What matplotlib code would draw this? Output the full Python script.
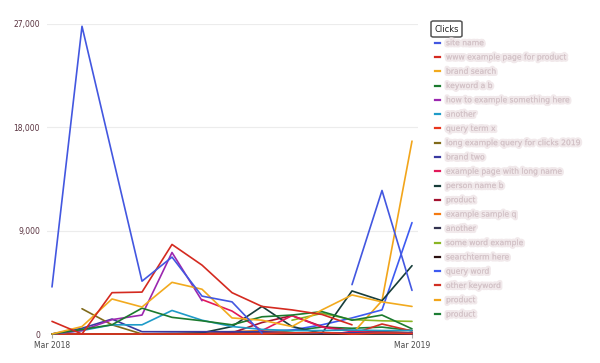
import matplotlib
matplotlib.use('Agg')
import matplotlib.pyplot as plt
import matplotlib.patheffects as pe
from matplotlib.lines import Line2D
from matplotlib.patches import FancyBboxPatch
import numpy as np

# Months Mar 2018 .. Mar 2019
months = ['Mar 2018', 'Apr 2018', 'May 2018', 'Jun 2018', 'Jul 2018', 'Aug 2018', 'Sep 2018',
          'Oct 2018', 'Nov 2018', 'Dec 2018', 'Jan 2019', 'Feb 2019', 'Mar 2019']
x_ticks = [0, 12]
x_tick_labels = ['Mar 2018', 'Mar 2019']
y_ticks = [0, 9000, 18000, 27000]
y_tick_labels = ['0', '9,000', '18,000', '27,000']

N = None
# legend labels are blurred in the reference; placeholders of similar length
labels = ['site name', 'www example page for product', 'brand search', 'keyword a b',
          'how to example something here', 'another', 'query term x', 'long example query for clicks 2019',
          'brand two', 'example page with long name', 'person name b', 'product', 'example sample q',
          'another', 'some word example', 'searchterm here', 'query word', 'other keyword', 'product', 'product']
colors = ['#4357e0', '#d42a20', '#f2aa1e', '#1b7a2e', '#9b27af', '#1f9bc8', '#e8361c', '#806a1a',
          '#3a3aa0', '#e2195a', '#173d3a', '#a3122e', '#f47a12', '#33334f', '#8ab524', '#2b1111',
          '#3d5af1', '#d12f23', '#f2a51a', '#1c7d34']
s1 = [4100, 26800, 15700, 4600, 6700, 3300, 2800, 60, N, N, 4300, 12500, 3800]
s2 = [1100, 0, 3600, 3650, 7800, 6000, 3600, 2400, 2100, 1700, 800, N, N]
s3 = [0, 650, 3050, 2350, 4500, 3900, 1400, 1200, 650, 2100, 3400, 2800, 2400]
s4 = [0, 400, 800, 2250, 1450, 1150, 800, 1500, 1650, 1950, 1200, 1650, 450]
s5 = [0, 300, 1250, 1650, 7100, 2900, N, N, N, N, N, N, N]
s6 = [0, 300, 800, 800, 2050, 1200, 650, 400, 300, 300, 350, 300, 300]
s7 = [0, 0, 0, 0, 0, 0, 0, 50, 100, 150, 0, 100, 50]
s8 = [N, 2200, 800, 0, N, N, N, N, N, N, N, N, N]
s9 = [0, 500, 1300, 200, 200, 200, 200, 200, 100, 100, 100, 100, 100]
s10 = [N, N, N, N, N, 3000, 2000, 300, 1600, 600, 200, 100, 50]
s11 = [0, 0, 0, 0, 0, 100, 650, 2400, 650, 60, 3750, 2900, 5950]
s12 = [0, 0, 0, 0, 0, 0, 100, 1000, 1600, 650, 300, 200, 100]
s13 = [0, 0, 0, 0, 0, 100, 200, 300, 100, 100, 100, 200, 100]
s14 = [0, 0, 0, 0, 50, 50, 50, 100, 50, 50, 50, 50, 0]
s15 = [N, N, N, N, N, N, N, N, 1200, 1800, 1250, 1150, 1100]
s16 = [0, 0, 0, 0, 0, 0, 50, 50, 0, 0, 0, 0, 0]
s17 = [0, 0, 0, 0, 0, 0, 100, 200, 350, 800, 1400, 2100, 9700]
s18 = [0, 0, 0, 0, 0, 0, 0, 0, 0, 0, 0, 870, 260]
s19 = [0, 0, 0, 0, 0, 0, 0, 0, 0, 0, 0, 2900, 16800]
s20 = [0, 0, 0, 0, 0, 0, 0, 100, 300, 600, 500, 600, 300]
series = [s1, s2, s3, s4, s5, s6, s7, s8, s9, s10, s11, s12, s13, s14, s15, s16, s17, s18, s19, s20]

fig = plt.figure(figsize=(6, 3.63), dpi=100)
W, H = 600, 363
# axes: left 47px, right 418px, y=0 at 334px, 27000 at 24px
ax = fig.add_axes([47 / W, (H - 334) / H, (418 - 47) / W, (334 - 24) / H])

x = np.arange(len(months))
# draw later series first so the first ones sit on top, like the reference
for vals, c in reversed(list(zip(series, colors))):
    y = np.array([np.nan if v is None else v for v in vals], dtype=float)
    ax.plot(x, y, color=c, linewidth=1.2, clip_on=False, solid_capstyle='round')

ax.set_xlim(-5 / 30, 12 + 6 / 30)
ax.set_ylim(0, 27000)
ax.set_yticks(y_ticks)
ax.set_yticklabels(y_tick_labels)
ax.set_xticks(x_ticks)
ax.set_xticklabels(x_tick_labels)
ax.tick_params(axis='y', length=0, pad=5, labelsize=5.5, labelcolor='#5a3340')
ax.tick_params(axis='x', length=3, width=0.8, color='#aaaaaa', pad=2, labelsize=5.5, labelcolor='#4a4a4a')
ax.grid(axis='y', color='#ececec', linewidth=0.8)
ax.set_axisbelow(True)
for sp in ax.spines.values():
    sp.set_visible(False)

# legend title box
fig.add_artist(FancyBboxPatch((431 / W, (H - 37) / H), 31 / W, 16 / H,
                              boxstyle='round,pad=0,rounding_size=0.004',
                              transform=fig.transFigure, facecolor='white',
                              edgecolor='#555555', linewidth=1.1))
fig.text(446.5 / W, (H - 29) / H, 'Clicks', ha='center', va='center', fontsize=6, color='#222222')

# legend entries (text kept pale and fuzzy to mimic the blurred reference)
for i, (lab, c) in enumerate(zip(labels, colors)):
    yy = (H - (42.7 + i * 14.28)) / H
    fig.add_artist(Line2D([435 / W, 440 / W], [yy, yy], transform=fig.transFigure,
                          color=c, linewidth=1.6))
    fig.text(446 / W, yy, lab, ha='left', va='center', fontsize=5.5, color='#d2c1c6', alpha=0.9,
             path_effects=[pe.withStroke(linewidth=3.2, foreground='#f0e7e9'), pe.Normal()])

fig.savefig('out.png', dpi=100)
